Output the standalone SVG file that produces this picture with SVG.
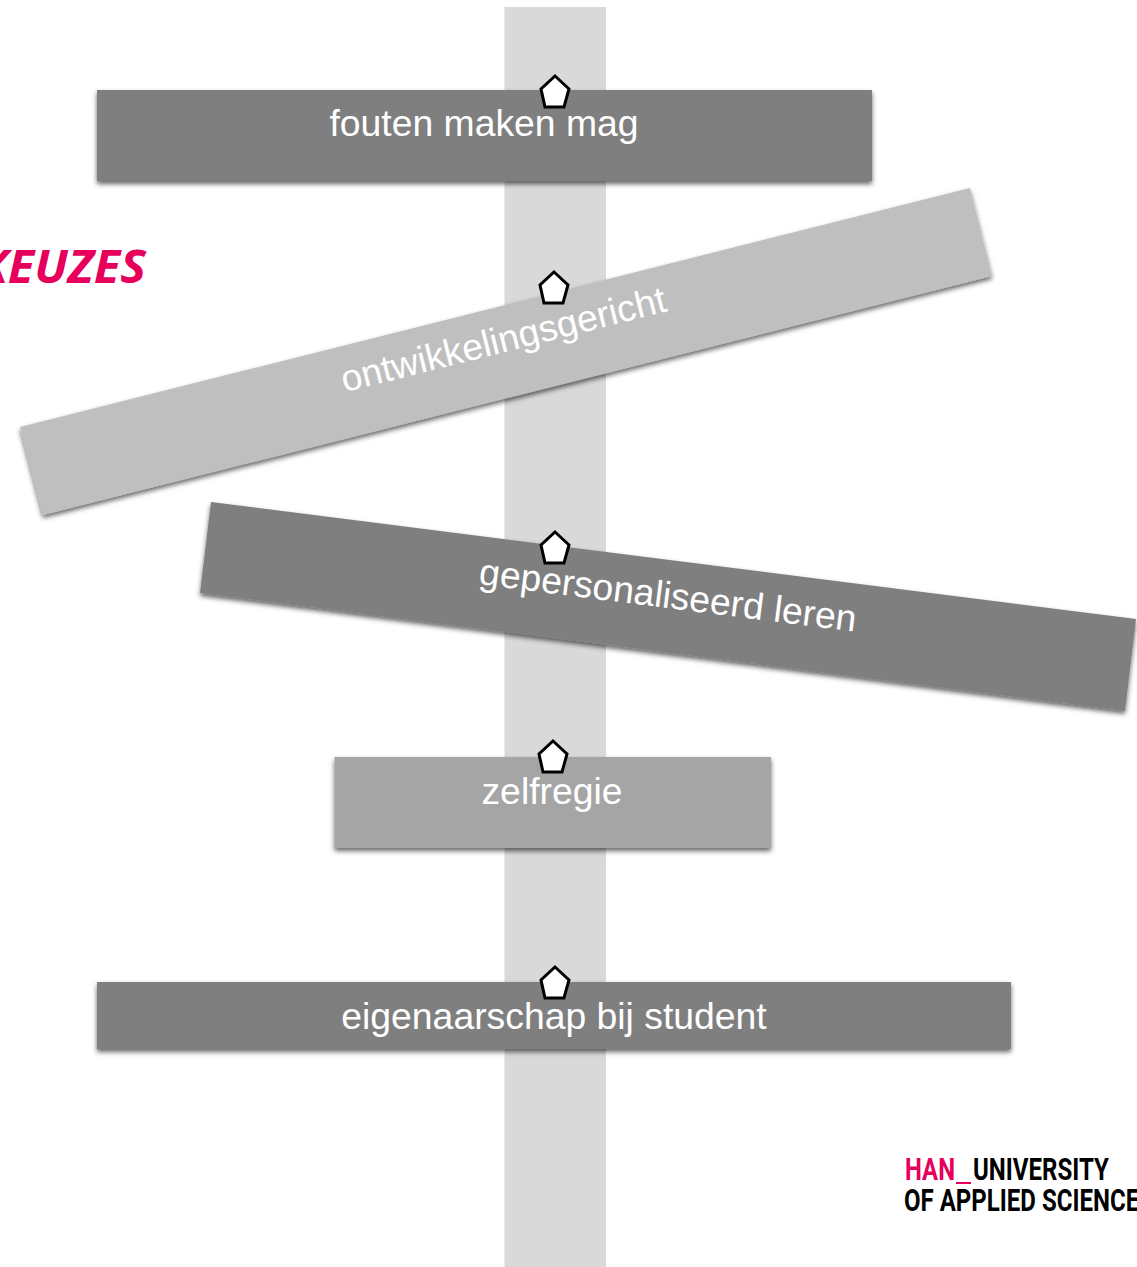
<svg xmlns="http://www.w3.org/2000/svg" xmlns:xlink="http://www.w3.org/1999/xlink" width="1137" height="1267" viewBox="0 0 1137 1267">
<style>
.lbl{font-family:"Liberation Sans",Arial,sans-serif;font-size:37.33px;fill:#fff;text-anchor:middle}
.pent{fill:#fff;stroke:#000;stroke-width:3;stroke-linejoin:miter}
.logo{font-family:"Roboto","Liberation Sans",sans-serif;font-weight:700;font-size:31px}
</style>
<defs>
<filter id="sh" x="-5%" y="-20%" width="110%" height="140%">
<feDropShadow dx="0" dy="3" stdDeviation="2.5" flood-color="#000" flood-opacity="0.6"/>
</filter>
<polygon id="p" class="pent" points="0,0 14,13 9,31 -10,31 -14,13"/>
</defs>
<rect width="1137" height="1267" fill="#fff"/>
<rect id="pole" x="504.5" y="7" width="101.5" height="1260" fill="#d9d9d9"/>
<g id="keuzes"><text x="-22" y="283" font-family="'Open Sans',sans-serif" font-weight="700" font-style="italic" font-size="47" fill="#e6005c" textLength="168" lengthAdjust="spacingAndGlyphs">KEUZES</text></g>
<g id="node-fouten">
<rect x="97" y="90" width="775" height="91" fill="#7f7f7f" filter="url(#sh)"/>
<text class="lbl" x="484" y="136">fouten maken mag</text>
<use xlink:href="#p" href="#p" x="555" y="76"/>
</g>
<g id="node-ontwikkelingsgericht">
<polygon points="20,427 970,188 992,276 43,515" fill="#bfbfbf" filter="url(#sh)"/>
<text class="lbl" transform="translate(503.5,340) rotate(-14.1)" x="0" y="12">ontwikkelingsgericht</text>
<use xlink:href="#p" href="#p" x="554" y="272"/>
</g>
<g id="node-gepersonaliseerd">
<polygon points="211,502 1136,619 1125,711 200,593" fill="#7f7f7f" filter="url(#sh)"/>
<text class="lbl" transform="translate(668,596) rotate(7.2)" x="0" y="12">gepersonaliseerd leren</text>
<use xlink:href="#p" href="#p" x="555" y="532"/>
</g>
<g id="node-zelfregie">
<rect x="334.5" y="757" width="436.5" height="91" fill="#a5a5a5" filter="url(#sh)"/>
<text class="lbl" x="552" y="804">zelfregie</text>
<use xlink:href="#p" href="#p" x="553" y="741"/>
</g>
<g id="node-eigenaarschap">
<rect x="97" y="982" width="914" height="67" fill="#7f7f7f" filter="url(#sh)"/>
<text class="lbl" x="554" y="1029">eigenaarschap bij student</text>
<use xlink:href="#p" href="#p" x="555" y="967"/>
</g>
<g id="logo">
<text class="logo" x="905" y="1180" fill="#e6005c" textLength="50" lengthAdjust="spacingAndGlyphs">HAN</text>
<rect x="956" y="1182" width="15" height="2" fill="#e6005c"/>
<text class="logo" x="973" y="1180" fill="#000" textLength="136" lengthAdjust="spacingAndGlyphs">UNIVERSITY</text>
<text class="logo" x="904" y="1211" fill="#000" textLength="250" lengthAdjust="spacingAndGlyphs">OF APPLIED SCIENCES</text>
</g>
</svg>
